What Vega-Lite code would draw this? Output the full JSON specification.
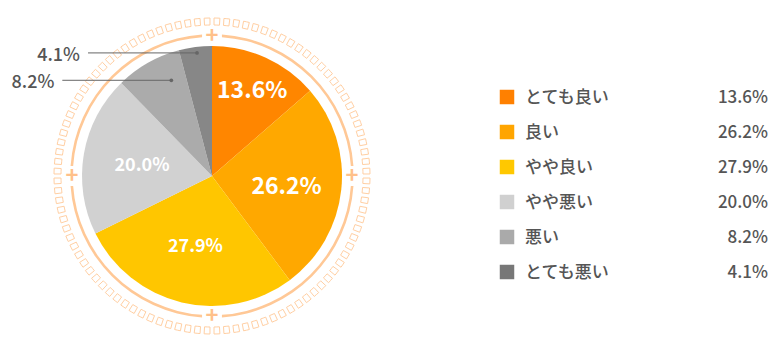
{
  "$schema": "https://vega.github.io/schema/vega-lite/v6.json",
  "padding": 0,
  "spacing": 0,
  "datasets": {
    "answers": [
      {"label": "とても良い", "value": 13.6, "order": 1},
      {"label": "良い", "value": 26.2, "order": 2},
      {"label": "やや良い", "value": 27.9, "order": 3},
      {"label": "やや悪い", "value": 20.0, "order": 4},
      {"label": "悪い", "value": 8.2, "order": 5},
      {"label": "とても悪い", "value": 4.1, "order": 6}
    ],
    "quarters": [
      {"q": 1, "v": 1}, {"q": 2, "v": 1}, {"q": 3, "v": 1}, {"q": 4, "v": 1}
    ],
    "crosses": [
      {"a": 0}, {"a": 90}, {"a": 180}, {"a": 270}
    ],
    "dots": [
      {"i": 1, "v": 1}, {"i": 2, "v": 1}, {"i": 3, "v": 1}, {"i": 4, "v": 1}, {"i": 5, "v": 1},
      {"i": 6, "v": 1}, {"i": 7, "v": 1}, {"i": 8, "v": 1}, {"i": 9, "v": 1}, {"i": 10, "v": 1},
      {"i": 11, "v": 1}, {"i": 12, "v": 1}, {"i": 13, "v": 1}, {"i": 14, "v": 1}, {"i": 15, "v": 1},
      {"i": 16, "v": 1}, {"i": 17, "v": 1}, {"i": 18, "v": 1}, {"i": 19, "v": 1}, {"i": 20, "v": 1},
      {"i": 21, "v": 1}, {"i": 22, "v": 1}, {"i": 23, "v": 1}, {"i": 24, "v": 1}, {"i": 25, "v": 1},
      {"i": 26, "v": 1}, {"i": 27, "v": 1}, {"i": 28, "v": 1}, {"i": 29, "v": 1}, {"i": 30, "v": 1},
      {"i": 31, "v": 1}, {"i": 32, "v": 1}, {"i": 33, "v": 1}, {"i": 34, "v": 1}, {"i": 35, "v": 1},
      {"i": 36, "v": 1}, {"i": 37, "v": 1}, {"i": 38, "v": 1}, {"i": 39, "v": 1}, {"i": 40, "v": 1},
      {"i": 41, "v": 1}, {"i": 42, "v": 1}, {"i": 43, "v": 1}, {"i": 44, "v": 1}, {"i": 45, "v": 1},
      {"i": 46, "v": 1}, {"i": 47, "v": 1}, {"i": 48, "v": 1}, {"i": 49, "v": 1}, {"i": 50, "v": 1},
      {"i": 51, "v": 1}, {"i": 52, "v": 1}, {"i": 53, "v": 1}, {"i": 54, "v": 1}, {"i": 55, "v": 1},
      {"i": 56, "v": 1}, {"i": 57, "v": 1}, {"i": 58, "v": 1}, {"i": 59, "v": 1}, {"i": 60, "v": 1},
      {"i": 61, "v": 1}, {"i": 62, "v": 1}, {"i": 63, "v": 1}, {"i": 64, "v": 1}, {"i": 65, "v": 1},
      {"i": 66, "v": 1}, {"i": 67, "v": 1}, {"i": 68, "v": 1}, {"i": 69, "v": 1}, {"i": 70, "v": 1},
      {"i": 71, "v": 1}, {"i": 72, "v": 1}, {"i": 73, "v": 1}, {"i": 74, "v": 1}, {"i": 75, "v": 1},
      {"i": 76, "v": 1}, {"i": 77, "v": 1}, {"i": 78, "v": 1}, {"i": 79, "v": 1}, {"i": 80, "v": 1},
      {"i": 81, "v": 1}, {"i": 82, "v": 1}, {"i": 83, "v": 1}, {"i": 84, "v": 1}, {"i": 85, "v": 1},
      {"i": 86, "v": 1}, {"i": 87, "v": 1}, {"i": 88, "v": 1}, {"i": 89, "v": 1}, {"i": 90, "v": 1},
      {"i": 91, "v": 1}, {"i": 92, "v": 1}, {"i": 93, "v": 1}, {"i": 94, "v": 1}, {"i": 95, "v": 1},
      {"i": 96, "v": 1}, {"i": 97, "v": 1}, {"i": 98, "v": 1}, {"i": 99, "v": 1}, {"i": 100, "v": 1}
    ]
  },
  "hconcat": [
    {
      "width": 424,
      "height": 352,
      "resolve": {"scale": {"theta": "independent", "color": "independent"}},
      "layer": [
        {
          "data": {"name": "dots"},
          "mark": {"type": "arc", "innerRadius": 151, "outerRadius": 158, "padAngle": 0.0185, "filled": false, "color": "#FFCFA3", "strokeWidth": 1},
          "encoding": {"theta": {"field": "v", "type": "quantitative", "stack": true}, "order": {"field": "i"}}
        },
        {
          "data": {"name": "quarters"},
          "mark": {"type": "arc", "innerRadius": 139.2, "outerRadius": 141.8, "padAngle": 0.1, "color": "#FFC896"},
          "encoding": {"theta": {"field": "v", "type": "quantitative", "stack": true}, "order": {"field": "q"}}
        },
        {
          "data": {"name": "crosses"},
          "mark": {"type": "text", "text": "+", "fontSize": 22, "fontWeight": "bold", "color": "#FFC08A", "align": "center", "baseline": "middle"},
          "encoding": {
            "theta": {"field": "a", "type": "quantitative", "stack": null, "scale": {"domain": [0, 360], "range": [0, 6.283185307179586]}},
            "radius": {"value": 140}
          }
        },
        {
          "data": {"name": "answers"},
          "mark": {"type": "arc", "outerRadius": 130},
          "encoding": {
            "theta": {"field": "value", "type": "quantitative", "stack": true},
            "order": {"field": "order"},
            "color": {"field": "label", "type": "nominal", "legend": null,
              "scale": {"domain": ["とても良い", "良い", "やや良い", "やや悪い", "悪い", "とても悪い"],
                        "range": ["#FF8600", "#FFA800", "#FFC600", "#D1D1D1", "#ABABAB", "#878787"]}}
          }
        },
        {
          "data": {"name": "answers"},
          "transform": [
            {"window": [{"op": "sum", "field": "value", "as": "cum"}], "sort": [{"field": "order"}], "frame": [null, 0]},
            {"calculate": "datum.cum - datum.value / 2", "as": "mid"},
            {"calculate": "format(datum.value, '.1f') + '%'", "as": "pct"},
            {"filter": "datum.label === 'とても良い'"}
          ],
          "mark": {"type": "text", "fontSize": 23, "fontWeight": "bold", "color": "#FFFFFF", "align": "center", "baseline": "middle", "dy": 3},
          "encoding": {
            "theta": {"field": "mid", "type": "quantitative", "stack": null, "scale": {"domain": [0, 100], "range": [0, 6.283185307179586]}},
            "radius": {"value": 97},
            "text": {"field": "pct"}
          }
        },
        {
          "data": {"name": "answers"},
          "transform": [
            {"window": [{"op": "sum", "field": "value", "as": "cum"}], "sort": [{"field": "order"}], "frame": [null, 0]},
            {"calculate": "datum.cum - datum.value / 2", "as": "mid"},
            {"calculate": "format(datum.value, '.1f') + '%'", "as": "pct"},
            {"filter": "datum.label === '良い'"}
          ],
          "mark": {"type": "text", "fontSize": 23, "fontWeight": "bold", "color": "#FFFFFF", "align": "center", "baseline": "middle", "dy": 3},
          "encoding": {
            "theta": {"field": "mid", "type": "quantitative", "stack": null, "scale": {"domain": [0, 100], "range": [0, 6.283185307179586]}},
            "radius": {"value": 75},
            "text": {"field": "pct"}
          }
        },
        {
          "data": {"name": "answers"},
          "transform": [
            {"window": [{"op": "sum", "field": "value", "as": "cum"}], "sort": [{"field": "order"}], "frame": [null, 0]},
            {"calculate": "datum.cum - datum.value / 2", "as": "mid"},
            {"calculate": "format(datum.value, '.1f') + '%'", "as": "pct"},
            {"filter": "datum.label === 'やや良い' || datum.label === 'やや悪い'"}
          ],
          "mark": {"type": "text", "fontSize": 18, "fontWeight": "bold", "color": "#FFFFFF", "align": "center", "baseline": "middle", "dy": 2},
          "encoding": {
            "theta": {"field": "mid", "type": "quantitative", "stack": null, "scale": {"domain": [0, 100], "range": [0, 6.283185307179586]}},
            "radius": {"value": 71},
            "text": {"field": "pct"}
          }
        },
        {
          "data": {"name": "answers"},
          "transform": [
            {"window": [{"op": "sum", "field": "value", "as": "cum"}], "sort": [{"field": "order"}], "frame": [null, 0]},
            {"filter": "datum.value < 10"},
            {"calculate": "datum.value < 5 ? 0.53 : 0.72", "as": "f"},
            {"calculate": "datum.value < 5 ? 124 : 104", "as": "rr"},
            {"calculate": "(datum.cum - datum.value + datum.f * datum.value) * 2 * PI / 100", "as": "ang"},
            {"calculate": "datum.rr * sin(datum.ang)", "as": "dx"},
            {"calculate": "datum.rr * cos(datum.ang)", "as": "dy"},
            {"calculate": "datum.dx - 109", "as": "lx"},
            {"calculate": "datum.dx - 117", "as": "tx"},
            {"calculate": "format(datum.value, '.1f') + '%'", "as": "pct"}
          ],
          "layer": [
            {
              "mark": {"type": "rule", "color": "#666666", "strokeWidth": 1},
              "encoding": {
                "x": {"field": "dx", "type": "quantitative", "scale": {"domain": [-212, 212], "nice": false, "zero": false}, "axis": null},
                "x2": {"field": "lx"},
                "y": {"field": "dy", "type": "quantitative", "scale": {"domain": [-176, 176], "nice": false, "zero": false}, "axis": null}
              }
            },
            {
              "mark": {"type": "point", "filled": true, "size": 14, "color": "#666666", "opacity": 1},
              "encoding": {
                "x": {"field": "dx", "type": "quantitative", "scale": {"domain": [-212, 212], "nice": false, "zero": false}, "axis": null},
                "y": {"field": "dy", "type": "quantitative", "scale": {"domain": [-176, 176], "nice": false, "zero": false}, "axis": null}
              }
            },
            {
              "mark": {"type": "text", "align": "right", "baseline": "middle", "fontSize": 18, "fontWeight": 500, "color": "#555555", "dy": 3},
              "encoding": {
                "x": {"field": "tx", "type": "quantitative", "scale": {"domain": [-212, 212], "nice": false, "zero": false}, "axis": null},
                "y": {"field": "dy", "type": "quantitative", "scale": {"domain": [-176, 176], "nice": false, "zero": false}, "axis": null},
                "text": {"field": "pct"}
              }
            }
          ]
        }
      ]
    },
    {
      "width": 356,
      "height": 361,
      "data": {"name": "answers"},
      "transform": [{"calculate": "format(datum.value, '.1f') + '%'", "as": "pct"}],
      "encoding": {
        "y": {"field": "label", "type": "nominal", "axis": null,
          "scale": {"type": "point", "padding": 0, "domain": ["とても良い", "良い", "やや良い", "やや悪い", "悪い", "とても悪い"], "range": [97, 272]}}
      },
      "layer": [
        {
          "mark": {"type": "point", "shape": "square", "filled": true, "size": 210, "opacity": 1, "strokeWidth": 0},
          "encoding": {
            "x": {"value": 83},
            "color": {"field": "label", "type": "nominal", "legend": null,
              "scale": {"domain": ["とても良い", "良い", "やや良い", "やや悪い", "悪い", "とても悪い"],
                        "range": ["#FF8000", "#FFA500", "#FFC800", "#D0D0D0", "#AAAAAA", "#777777"]}}
          }
        },
        {
          "mark": {"type": "text", "align": "left", "baseline": "middle", "fontSize": 17, "fontWeight": 500, "color": "#555555", "dy": 1},
          "encoding": {"x": {"value": 101}, "text": {"field": "label"}}
        },
        {
          "mark": {"type": "text", "align": "right", "baseline": "middle", "fontSize": 17, "fontWeight": 500, "color": "#555555", "dy": 1},
          "encoding": {"x": {"value": 344}, "text": {"field": "pct"}}
        }
      ]
    }
  ],
  "config": {
    "view": {"stroke": null},
    "font": "Noto Sans CJK JP",
    "text": {"font": "Noto Sans CJK JP"}
  }
}
